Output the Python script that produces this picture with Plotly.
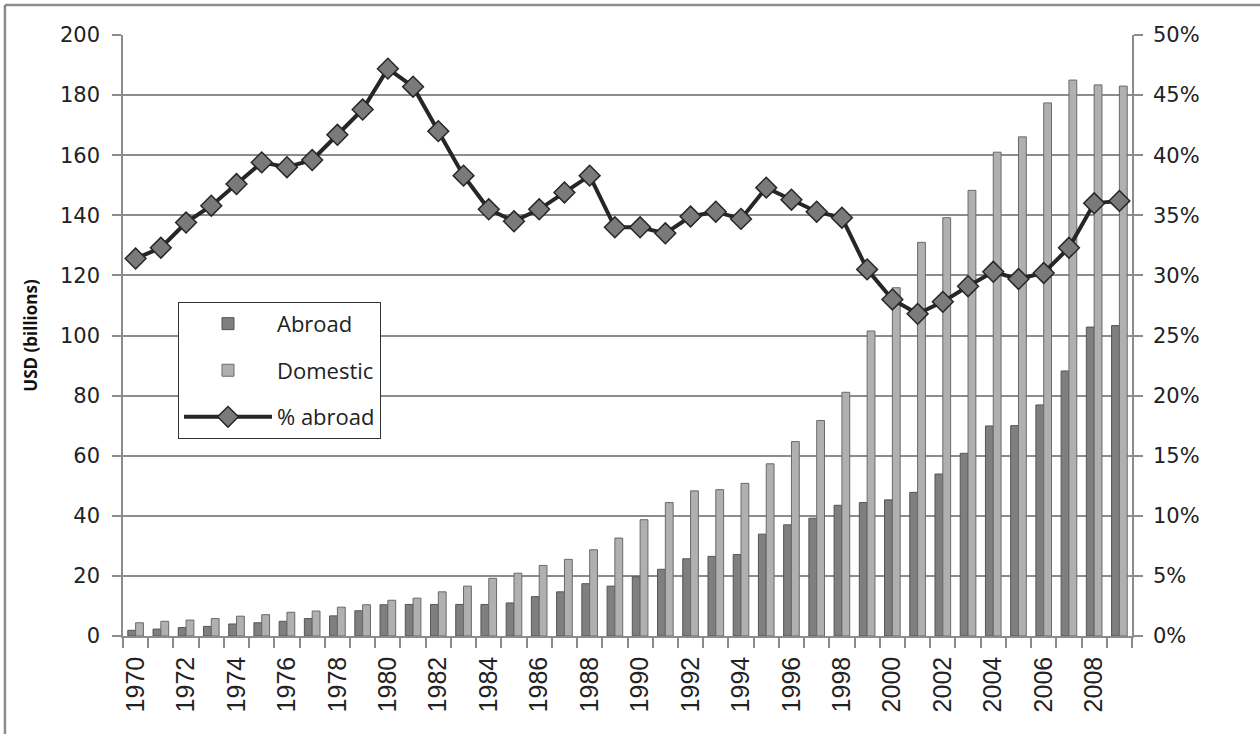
import plotly.graph_objects as go

years = list(range(1970, 2010))
abroad = [1.9, 2.3, 2.8, 3.2, 4.0, 4.4, 4.9, 5.8, 6.7, 8.4,
          10.4, 10.5, 10.5, 10.5, 10.5, 11.0, 13.1, 14.7, 17.4, 16.6,
          19.7, 22.2, 25.7, 26.5, 27.1, 33.9, 37.0, 39.2, 43.5, 44.4,
          45.3, 47.8, 53.9, 60.8, 69.9, 70.0, 76.9, 88.2, 102.8, 103.3]
domestic = [4.4, 4.9, 5.3, 5.8, 6.6, 7.1, 7.9, 8.3, 9.6, 10.4,
            11.9, 12.6, 14.7, 16.6, 19.2, 20.9, 23.5, 25.5, 28.7, 32.6,
            38.7, 44.4, 48.3, 48.7, 50.8, 57.3, 64.7, 71.7, 81.1, 101.5,
            115.9, 131.0, 139.2, 148.3, 161.0, 166.1, 177.4, 185.0, 183.4, 183.0]
pct_abroad = [31.4, 32.3, 34.4, 35.8, 37.6, 39.4, 39.0, 39.6, 41.7, 43.8,
              47.2, 45.7, 42.0, 38.3, 35.5, 34.5, 35.5, 36.9, 38.3, 34.0,
              34.0, 33.5, 34.9, 35.3, 34.7, 37.3, 36.3, 35.3, 34.8, 30.5,
              28.0, 26.8, 27.8, 29.1, 30.3, 29.7, 30.2, 32.3, 36.0, 36.2]
label_years = list(range(1970, 2010, 2))
left_ticks = list(range(0, 201, 20))
right_ticks = [i / 100 for i in range(0, 51, 5)]

fig = go.Figure()
fig.add_trace(go.Bar(x=years, y=abroad, name="Abroad", legendgroup="a",
                     marker=dict(color="#7f7f7f", line=dict(color="#555555", width=1))))
fig.add_trace(go.Bar(x=years, y=domestic, name="Domestic", legendgroup="b",
                     marker=dict(color="#b0b0b0", line=dict(color="#6a6a6a", width=1))))
fig.add_trace(go.Scatter(x=years, y=[p / 100 for p in pct_abroad], name="% abroad",
                         legendgroup="c", yaxis="y2", mode="lines+markers",
                         line=dict(color="#262626", width=4),
                         marker=dict(symbol="diamond", size=16, color="#7a7a7a",
                                     line=dict(color="#262626", width=1.5))))

fig.update_layout(
    width=1260, height=734,
    margin=dict(l=123, r=128, t=35, b=98, autoexpand=False),
    paper_bgcolor="white", plot_bgcolor="white",
    barmode="group", bargap=0.38, bargroupgap=0,
    showlegend=True,
    legend=dict(x=0.0545, y=0.556, xanchor="left", yanchor="top",
                bordercolor="#333333", borderwidth=1, bgcolor="white",
                font=dict(family="Open Sans", size=22, color="#222222"),
                tracegroupgap=15, traceorder="grouped", itemwidth=88),
    xaxis=dict(range=[1969.5, 2009.5], tickmode="array", tickvals=label_years,
               ticktext=[str(y) for y in label_years], tickangle=-90,
               ticks="", showgrid=False, showline=True, linecolor="#8c8c8c", linewidth=1.5,
               tickfont=dict(family="Liberation Sans", size=25, color="#222222"),
               ticklabelstandoff=9, automargin=False,
               minor=dict(tickmode="linear", tick0=1969.5, dtick=1, ticks="outside",
                          ticklen=10, tickcolor="#8c8c8c", tickwidth=1.5, showgrid=False),
               zeroline=False),
    yaxis=dict(range=[0, 200], tickmode="array", tickvals=left_ticks,
               showgrid=True, gridcolor="#8c8c8c", gridwidth=1.5,
               showline=True, linecolor="#8c8c8c", linewidth=1.5,
               ticks="outside", ticklen=9, tickcolor="#8c8c8c", tickwidth=1.5,
               tickfont=dict(family="DejaVu Sans", size=21, color="#222222"),
               ticklabelstandoff=8, automargin=False,
               zeroline=False,
               title=dict(text="<b>USD (billions)</b>", standoff=18,
                          font=dict(family="Open Sans", size=17, color="#111111"))),
    yaxis2=dict(range=[0, 0.5], overlaying="y", side="right", tickmode="array",
                tickvals=right_ticks, tickformat=".0%", showgrid=False,
                showline=True, linecolor="#8c8c8c", linewidth=1.5,
                ticks="outside", ticklen=9, tickcolor="#8c8c8c", tickwidth=1.5,
                tickfont=dict(family="DejaVu Sans", size=21, color="#222222"),
                ticklabelstandoff=6, automargin=False,
                zeroline=False),
    shapes=[
        dict(type="line", xref="paper", yref="paper", x0=-0.117, x1=1.2, y0=1.0499, y1=1.0499,
             line=dict(color="#8c8c8c", width=2.5)),
        dict(type="line", xref="paper", yref="paper", x0=-0.117, x1=-0.117, y0=-0.2, y1=1.0499,
             line=dict(color="#8c8c8c", width=2.5)),
    ],
)

fig.write_html("out.html", config={"displayModeBar": False},
               post_script="document.body.style.margin='0';document.body.style.overflow='hidden';")
